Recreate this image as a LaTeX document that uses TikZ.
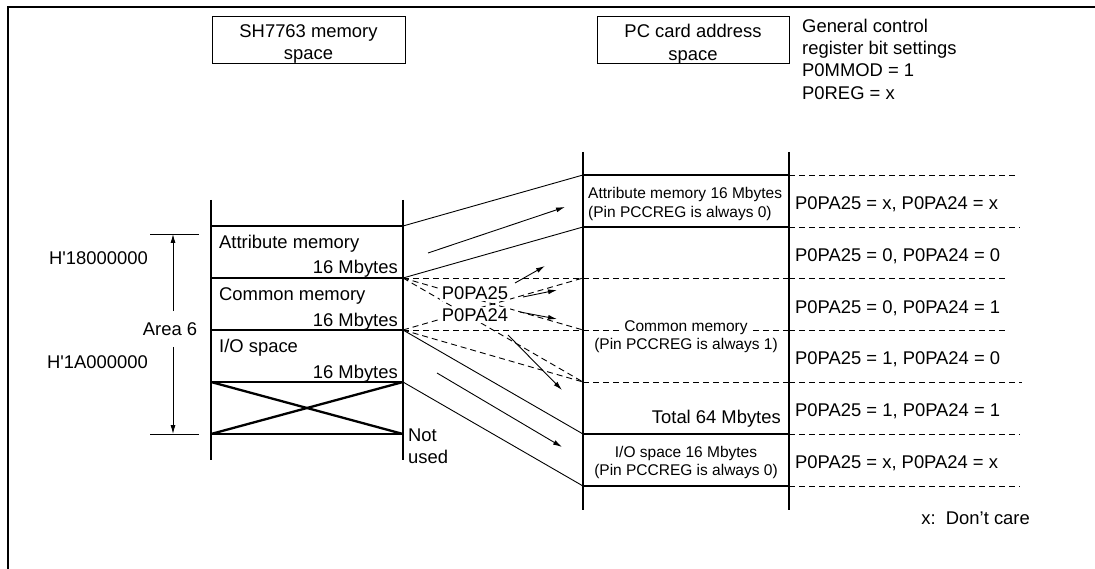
\documentclass[tikz,border=0pt]{standalone}
\usepackage{fontspec}
\setmainfont{Liberation Sans}
\usetikzlibrary{arrows.meta}
\newcommand\mybigfont{\fontsize{18.4}{22}\selectfont}
\newcommand\mysmallfont{\fontsize{15.5}{18}\selectfont}
\begin{document}
\begin{tikzpicture}[x=1pt,y=-1pt,
  framel/.style={line width=2.3pt},
  colline/.style={line width=2.3pt},
  thinline/.style={line width=0.9pt},
  dashline/.style={line width=0.9pt, dash pattern=on 6pt off 4pt},
  arrline/.style={line width=0.9pt, -{Latex[length=9pt,width=5pt]}},
  lbl/.style={inner sep=0pt, font=\mybigfont, text height=13.2pt, text depth=0pt},
  sml/.style={inner sep=0pt, font=\mysmallfont, text height=11.2pt, text depth=0pt},
  hbox/.style={draw, line width=1pt, minimum height=47pt, inner sep=0pt}]
\useasboundingbox (0,0) rectangle (1095,569);

% frame
\coordinate (fbl) at (8,569);
\coordinate (ftl) at (8,7);
\coordinate (ftr) at (1095,7);
\draw[framel] (fbl) -- (ftl) -- (ftr);

% header boxes
\node[hbox, minimum width=193pt] (shbox) at (308.5,40.5) {};
\node[lbl] (sht1) at (308.5,31) {SH7763 memory};
\node[lbl] (sht2) at (308.5,53) {space};
\node[hbox, minimum width=192pt] (pcbox) at (693,40.5) {};
\node[lbl] (pct1) at (693,31) {PC card address};
\node[lbl] (pct2) at (693,54) {space};

\node[lbl, anchor=west] (g1) at (802,26) {General control};
\node[lbl, anchor=west] (g2) at (802,48) {register bit settings};
\node[lbl, anchor=west] (g3) at (802,70) {P0MMOD = 1};
\node[lbl, anchor=west] (g4) at (802,93) {P0REG = x};

% left column coordinates
\coordinate (lvt1) at (211,200); \coordinate (lvb1) at (211,460);
\coordinate (lvt2) at (403,200); \coordinate (lvb2) at (403,460);
\foreach \n/\y in {1/226,2/278,3/330,4/382,5/434} {
  \coordinate (la\n) at (211,\y);
  \coordinate (lb\n) at (403,\y);
}
% right column coordinates
\coordinate (rvt1) at (583,152); \coordinate (rvb1) at (583,510);
\coordinate (rvt2) at (789,152); \coordinate (rvb2) at (789,510);
\foreach \n/\y/\e in {1/175/1018,2/227/1020,3/278/1005,4/330/1005,5/382/1022,6/434/1020,7/486/1020} {
  \coordinate (ra\n) at (583,\y);
  \coordinate (rb\n) at (789,\y);
  \coordinate (re\n) at (\e,\y);
}

% dashed lines
\foreach \n in {1,...,7} \draw[dashline] (rb\n) -- (re\n);
\draw[dashline] (lb2) -- (rb3);
\draw[dashline] (lb3) -- (rb4);
\draw[dashline] (ra5) -- (rb5);
\draw[dashline] (lb2) -- (ra5);
\draw[dashline] (lb2) -- (ra4);
\draw[dashline] (lb3) -- (ra3);
\draw[dashline] (lb3) -- (ra5);

% thin mapping lines
\draw[thinline] (lb1) -- (ra1);
\draw[thinline] (lb2) -- (ra2);
\draw[thinline] (lb3) -- (ra6);
\draw[thinline] (lb4) -- (ra7);

% left column
\draw[colline] (lvt1) -- (lvb1);
\draw[colline] (lvt2) -- (lvb2);
\foreach \n in {1,...,5} \draw[colline] (la\n) -- (lb\n);
\draw[colline] (la4) -- (lb5);
\draw[colline] (la5) -- (lb4);

% right column
\draw[colline] (rvt1) -- (rvb1);
\draw[colline] (rvt2) -- (rvb2);
\foreach \n in {1,2,6,7} \draw[colline] (ra\n) -- (rb\n);

% left column labels
\node[lbl, anchor=west] (am) at (219,242) {Attribute memory};
\node[lbl, anchor=east] (ams) at (398,267) {16 Mbytes};
\node[lbl, anchor=west] (cm) at (219,294) {Common memory};
\node[lbl, anchor=east] (cms) at (398,320) {16 Mbytes};
\node[lbl, anchor=west] (io) at (219,346) {I/O space};
\node[lbl, anchor=east] (ios) at (398,372) {16 Mbytes};
\node[lbl, anchor=west] (nt1) at (408,435) {Not};
\node[lbl, anchor=west] (nt2) at (408,457) {used};

% area 6
\coordinate (tk1a) at (150,234); \coordinate (tk1b) at (199,234);
\coordinate (tk2a) at (150,434); \coordinate (tk2b) at (199,434);
\coordinate (at) at (173,234); \coordinate (ab) at (173,434);
\draw[thinline] (tk1a) -- (tk1b);
\draw[thinline] (tk2a) -- (tk2b);
\node[lbl, inner ysep=11pt] (area) at (170,329) {Area 6};
\draw[arrline] (area.north -| at) -- (at);
\draw[arrline] (area.south -| ab) -- (ab);
\node[lbl, anchor=east] (h18) at (148,258) {H\textquotesingle 18000000};
\node[lbl, anchor=east] (h1a) at (148,362) {H\textquotesingle 1A000000};

% PC card texts
\node[sml, anchor=west] (pa1) at (588,193) {Attribute memory 16 Mbytes};
\node[sml, anchor=west] (pa2) at (588,212) {(Pin PCCREG is always 0)};
\node[sml, fill=white, inner xsep=3pt, inner ysep=2pt] (pc1) at (686,326) {Common memory};
\node[sml] (pc2) at (686,344) {(Pin PCCREG is always 1)};
\node[lbl, anchor=east] (tot) at (781,417) {Total 64 Mbytes};
\node[sml] (pi1) at (686,452) {I/O space 16 Mbytes};
\node[sml] (pi2) at (686,470) {(Pin PCCREG is always 0)};

% bit settings
\node[lbl, anchor=west] (b1) at (795,203) {P0PA25 = x, P0PA24 = x};
\node[lbl, anchor=west] (b2) at (795,255) {P0PA25 = 0, P0PA24 = 0};
\node[lbl, anchor=west] (b3) at (795,307) {P0PA25 = 0, P0PA24 = 1};
\node[lbl, anchor=west] (b4) at (795,358) {P0PA25 = 1, P0PA24 = 0};
\node[lbl, anchor=west] (b5) at (795,410) {P0PA25 = 1, P0PA24 = 1};
\node[lbl, anchor=west] (b6) at (795,462) {P0PA25 = x, P0PA24 = x};

% P0PA labels
\node[lbl, fill=white, inner sep=1.5pt] (p25) at (475,293) {P0PA25};
\node[lbl, fill=white, inner sep=1.5pt] (p24) at (475,315) {P0PA24};

% arrows
\coordinate (a1s) at (428,253); \coordinate (a1e) at (565,207);
\coordinate (a2s) at (515,283); \coordinate (a2e) at (545,266);
\coordinate (a3s) at (523,297); \coordinate (a3e) at (557,290);
\coordinate (a4s) at (520,312); \coordinate (a4e) at (557,319);
\coordinate (a5s) at (508,335); \coordinate (a5e) at (562,390);
\coordinate (a6s) at (437,373); \coordinate (a6e) at (562,447);
\foreach \n in {1,...,6} \draw[arrline] (a\n s) -- (a\n e);

\node[lbl, anchor=east] (dc) at (1030,518) {x:\ \ Don't care};
\end{tikzpicture}
\end{document}
